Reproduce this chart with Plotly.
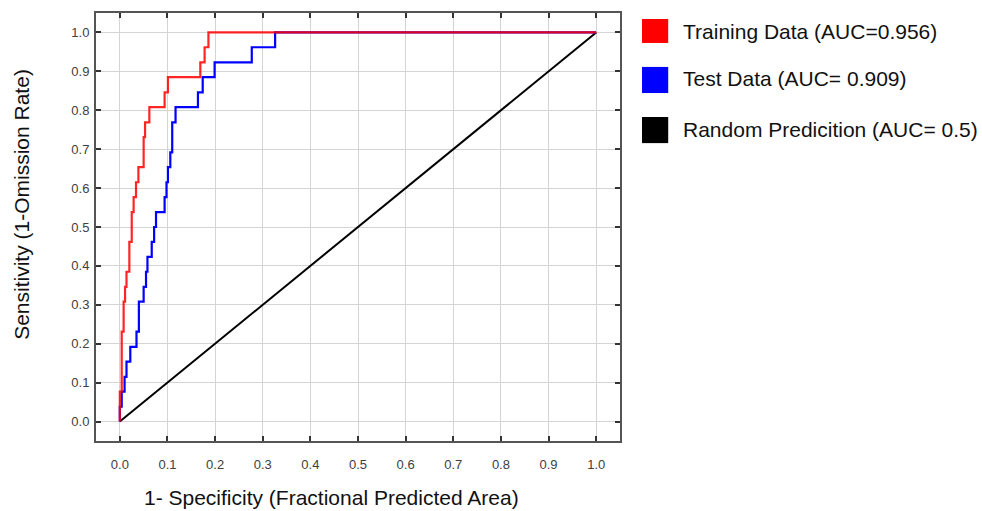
import plotly.graph_objects as go

# Training data ROC (1-specificity, sensitivity) step vertices
train_fpr = [0.000, 0.000, 0.004, 0.008, 0.011, 0.014, 0.020, 0.025, 0.029, 0.034,
             0.039, 0.050, 0.053, 0.062, 0.094, 0.101, 0.169, 0.178, 0.186, 1.000]
train_tpr = [0.000, 0.077, 0.231, 0.308, 0.346, 0.385, 0.462, 0.538, 0.577, 0.615,
             0.654, 0.731, 0.769, 0.808, 0.846, 0.885, 0.923, 0.962, 1.000, 1.000]

# Test data ROC step vertices
test_fpr = [0.000, 0.000, 0.004, 0.010, 0.014, 0.022, 0.035, 0.040, 0.050, 0.055,
            0.058, 0.067, 0.072, 0.076, 0.094, 0.098, 0.101, 0.106, 0.110, 0.117,
            0.164, 0.174, 0.199, 0.277, 0.326, 1.000]
test_tpr = [0.000, 0.038, 0.077, 0.115, 0.154, 0.192, 0.231, 0.308, 0.346, 0.385,
            0.423, 0.462, 0.500, 0.538, 0.577, 0.615, 0.654, 0.692, 0.769, 0.808,
            0.846, 0.885, 0.923, 0.962, 1.000, 1.000]

# Random prediction
rand_x = [0.0, 1.0]
rand_y = [0.0, 1.0]

tick_vals = [0.0, 0.1, 0.2, 0.3, 0.4, 0.5, 0.6, 0.7, 0.8, 0.9, 1.0]
tick_text = ["0.0", "0.1", "0.2", "0.3", "0.4", "0.5", "0.6", "0.7", "0.8", "0.9", "1.0"]

legend_labels = ["Training Data (AUC=0.956)", "Test Data (AUC= 0.909)", "Random Predicition (AUC= 0.5)"]
legend_colors = ["#ff0000", "#0000ff", "#000000"]

FONT = "Liberation Sans, Arial, sans-serif"

fig = go.Figure()
fig.add_trace(go.Scatter(x=rand_x, y=rand_y, mode="lines",
                         line=dict(color="#000000", width=2), showlegend=False))
fig.add_trace(go.Scatter(x=test_fpr, y=test_tpr, mode="lines", line_shape="hv",
                         line=dict(color="#0000ff", width=2.2), showlegend=False))
fig.add_trace(go.Scatter(x=train_fpr, y=train_tpr, mode="lines", line_shape="hv",
                         line=dict(color="#ff0000", width=2.2), opacity=0.85, showlegend=False))

axis_common = dict(
    range=[-0.05, 1.05], tickvals=tick_vals, ticktext=tick_text,
    showgrid=True, gridcolor="#d4d4d4", gridwidth=1, zeroline=False,
    showline=True, linecolor="#555555", linewidth=2, mirror="ticks",
    ticks="inside", ticklen=5, tickwidth=1.5, tickcolor="#333333",
    tickfont=dict(family=FONT, size=13, color="#404040"),
)
fig.update_xaxes(**axis_common, ticklabelstandoff=10)
fig.update_yaxes(**axis_common, ticklabelstandoff=2)

annotations = [
    dict(text="1- Specificity (Fractional Predicted Area)", xref="paper", yref="paper",
         x=0.4485, y=-0.131, xanchor="center", yanchor="middle", showarrow=False,
         font=dict(family=FONT, size=21, color="#111111")),
    dict(text="Sensitivity (1-Omission Rate)", xref="paper", yref="paper",
         x=-0.141, y=0.552, xanchor="center", yanchor="middle", showarrow=False, textangle=-90,
         font=dict(family=FONT, size=21, color="#111111")),
]
shapes = []
sq_y = [(0.930, 0.986), (0.813, 0.874), (0.696, 0.757)]
txt_y = [0.957, 0.846, 0.727]
for lab, col, (y0, y1), ty in zip(legend_labels, legend_colors, sq_y, txt_y):
    shapes.append(dict(type="rect", xref="paper", yref="paper", x0=1.042, x1=1.092,
                       y0=y0, y1=y1, fillcolor=col, line=dict(width=0)))
    annotations.append(dict(text=lab, xref="paper", yref="paper", x=1.1164, y=ty,
                            xanchor="left", yanchor="middle", showarrow=False,
                            font=dict(family=FONT, size=21, color="#111111")))

fig.update_layout(
    width=982, height=511,
    margin=dict(l=96, r=362, t=13, b=70),
    paper_bgcolor="white", plot_bgcolor="white",
    annotations=annotations, shapes=shapes, showlegend=False,
)

fig.write_html("out.html", config={"displayModeBar": False},
               post_script="document.body.style.margin='0';")
